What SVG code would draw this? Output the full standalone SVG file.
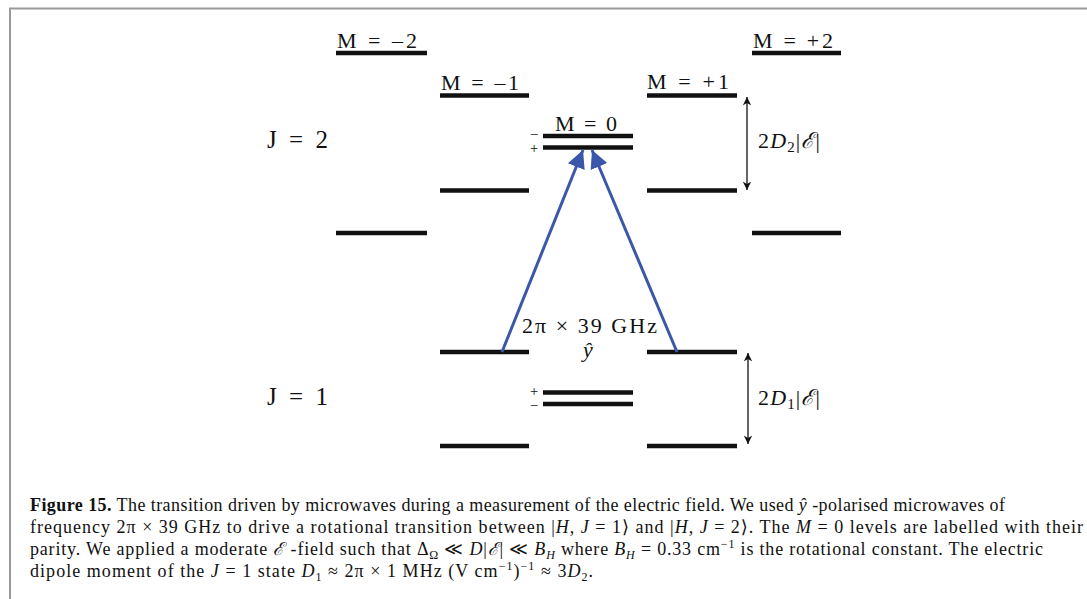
<svg xmlns="http://www.w3.org/2000/svg" width="1087" height="599" viewBox="0 0 1087 599">
<style>
.lv{stroke:#111;stroke-width:4.5;fill:none}
.lab{font-family:"Liberation Serif","DejaVu Serif",serif;font-size:22px;fill:#111}
.big{font-family:"Liberation Serif","DejaVu Serif",serif;font-size:25px;fill:#111}
.mid{font-family:"Liberation Serif","DejaVu Serif",serif;font-size:22px;fill:#111}
.par{font-family:"Liberation Serif","DejaVu Serif",serif;font-size:14.5px;fill:#111}
.cap{font-family:"Liberation Serif","DejaVu Serif",serif;font-size:18px;fill:#111}
.it{font-style:italic}
.mw{stroke:#3b57aa;stroke-width:3;fill:none}
.dbl{stroke:#111;stroke-width:1.3;fill:none}
</style>
<defs>
<marker id="bh" viewBox="0 0 10 10" refX="10" refY="5" markerWidth="6" markerHeight="7.5" markerUnits="strokeWidth" orient="auto"><path d="M0,0 L10,5 L0,10 Z" fill="#3b57aa"/></marker>
<marker id="kh" viewBox="0 0 10 10" refX="10" refY="5" markerWidth="8" markerHeight="6.5" markerUnits="strokeWidth" orient="auto-start-reverse"><path d="M0,0 L10,5 L0,10 L3,5 Z" fill="#111"/></marker>
</defs>
<rect width="1087" height="599" fill="#fff"/>
<path d="M10,599 V8.5 H1087" stroke="#999" stroke-width="2" fill="none"/>
<g id="Jlabels">
<text class="big" x="267" y="148" textLength="61">J = 2</text>
<text class="big" x="267" y="405" textLength="61">J = 1</text>
</g>
<g id="level-J2-Mm2"><line class="lv" x1="336" y1="53" x2="427" y2="53"/><text class="lab" x="337" y="48" textLength="80">M = –2</text></g>
<g id="level-J2-Mm1"><line class="lv" x1="440" y1="95.5" x2="529" y2="95.5"/><text class="lab" x="441" y="90" textLength="78">M = –1</text></g>
<g id="level-J2-M0"><line class="lv" x1="543" y1="136" x2="633" y2="136"/><line class="lv" x1="543" y1="147.5" x2="633" y2="147.5"/><text class="lab" x="555" y="131" textLength="62">M = 0</text><text class="par" x="534" y="139" text-anchor="middle">−</text><text class="par" x="534" y="153" text-anchor="middle">+</text></g>
<g id="level-J2-Mp1"><line class="lv" x1="647" y1="95.5" x2="737" y2="95.5"/><text class="lab" x="647" y="89" textLength="82">M = +1</text></g>
<g id="level-J2-Mp2"><line class="lv" x1="752" y1="53" x2="841" y2="53"/><text class="lab" x="753" y="48" textLength="80">M = +2</text></g>
<g id="level-J2-Mm1-low"><line class="lv" x1="440" y1="190.5" x2="529" y2="190.5"/></g>
<g id="level-J2-Mp1-low"><line class="lv" x1="647" y1="190.5" x2="737" y2="190.5"/></g>
<g id="level-J2-Mm2-low"><line class="lv" x1="336" y1="233" x2="427" y2="233"/></g>
<g id="level-J2-Mp2-low"><line class="lv" x1="752" y1="233" x2="841" y2="233"/></g>
<g id="level-J1-Mm1"><line class="lv" x1="440" y1="352" x2="529" y2="352"/></g>
<g id="level-J1-Mp1"><line class="lv" x1="647" y1="352" x2="737" y2="352"/></g>
<g id="level-J1-M0"><line class="lv" x1="543" y1="392.5" x2="633" y2="392.5"/><line class="lv" x1="543" y1="404" x2="633" y2="404"/><text class="par" x="534" y="396" text-anchor="middle">+</text><text class="par" x="534" y="410" text-anchor="middle">−</text></g>
<g id="level-J1-Mm1-low"><line class="lv" x1="440" y1="446" x2="529" y2="446"/></g>
<g id="level-J1-Mp1-low"><line class="lv" x1="647" y1="446" x2="737" y2="446"/></g>
<g id="connectors">
<line class="mw" x1="502" y1="352" x2="583" y2="150" marker-end="url(#bh)"/>
<line class="mw" x1="677" y1="352" x2="592" y2="150" marker-end="url(#bh)"/>
<line class="dbl" x1="747" y1="97" x2="747" y2="190" marker-start="url(#kh)" marker-end="url(#kh)"/>
<line class="dbl" x1="748" y1="353" x2="748" y2="444" marker-start="url(#kh)" marker-end="url(#kh)"/>
</g>
<g id="labels">
<text class="mid" x="522" y="333" textLength="135">2π × 39 GHz</text>
<text class="mid it" x="588" y="357" text-anchor="middle">ŷ</text>
<text class="mid" x="758" y="148" textLength="62">2<tspan class="it">D</tspan><tspan font-size="15" dy="4">2</tspan><tspan dy="-4">|</tspan><tspan class="it">ℰ</tspan>|</text>
<text class="mid" x="758" y="405" textLength="62">2<tspan class="it">D</tspan><tspan font-size="15" dy="4">1</tspan><tspan dy="-4">|</tspan><tspan class="it">ℰ</tspan>|</text>
</g>
<g id="caption">
<text class="cap" x="30" y="511" textLength="975" lengthAdjust="spacing"><tspan font-weight="bold">Figure 15.</tspan> The transition driven by microwaves during a measurement of the electric field. We used <tspan class="it">ŷ</tspan> -polarised microwaves of</text>
<text class="cap" x="30" y="533" textLength="1053" lengthAdjust="spacing">frequency 2π × 39 GHz to drive a rotational transition between |<tspan class="it">H</tspan>, <tspan class="it">J</tspan> = 1⟩ and |<tspan class="it">H</tspan>, <tspan class="it">J</tspan> = 2⟩. The <tspan class="it">M</tspan> = 0 levels are labelled with their</text>
<text class="cap" x="30" y="555" textLength="1013" lengthAdjust="spacing">parity. We applied a moderate <tspan class="it">ℰ</tspan> -field such that Δ<tspan font-size="12" dy="4">Ω</tspan><tspan dy="-4"> ≪ </tspan><tspan class="it">D</tspan>|<tspan class="it">ℰ</tspan>| ≪ <tspan class="it">B</tspan><tspan class="it" font-size="12" dy="4">H</tspan><tspan dy="-4"> where </tspan><tspan class="it">B</tspan><tspan class="it" font-size="12" dy="4">H</tspan><tspan dy="-4"> = 0.33 cm</tspan><tspan font-size="12" dy="-7">−1</tspan><tspan dy="7"> is the rotational constant. The electric</tspan></text>
<text class="cap" x="30" y="577" textLength="563" lengthAdjust="spacing">dipole moment of the <tspan class="it">J</tspan> = 1 state <tspan class="it">D</tspan><tspan font-size="12" dy="4">1</tspan><tspan dy="-4"> ≈ 2π × 1 MHz (V cm</tspan><tspan font-size="12" dy="-7">−1</tspan><tspan dy="7">)</tspan><tspan font-size="12" dy="-7">−1</tspan><tspan dy="7"> ≈ 3</tspan><tspan class="it">D</tspan><tspan font-size="12" dy="4">2</tspan><tspan dy="-4">.</tspan></text>
</g>
</svg>
